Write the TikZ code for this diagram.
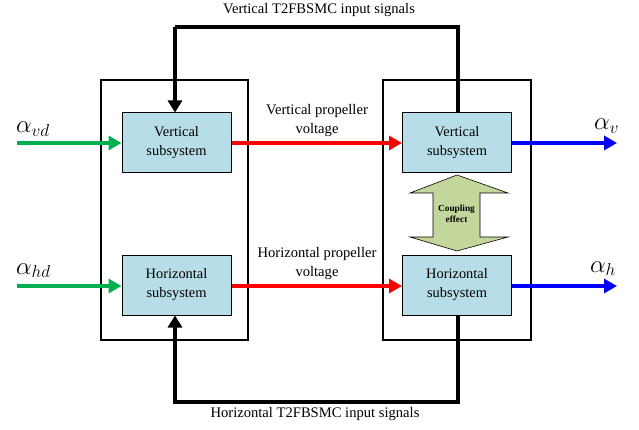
\documentclass[tikz,border=0pt]{standalone}
\usepackage{fontspec}
\setmainfont{Liberation Serif}
\usetikzlibrary{arrows.meta}
\definecolor{subfill}{RGB}{183,221,232}
\definecolor{couplefill}{RGB}{195,214,155}
\definecolor{ingreen}{RGB}{0,176,80}
\begin{document}
\begin{tikzpicture}[x=1pt,y=-1pt,
  frame/.style={draw=black,line width=1.3pt},
  subbox/.style={draw=black,line width=1pt,fill=subfill,minimum width=109pt,minimum height=60pt,
    align=center,font=\fontsize{14.4}{19}\selectfont,inner sep=0pt},
  sig/.style={line width=4pt,-{Triangle[length=13pt,width=14pt]}},
  fb/.style={line width=3.5pt,draw=black},
  lbl/.style={font=\fontsize{14.6}{19}\selectfont,align=center,inner sep=0pt},
  sym/.style={font=\fontsize{23}{23}\selectfont,inner sep=0pt}]
\useasboundingbox (0,0) rectangle (639,430);
% outer frames
\draw[frame] (101,80) rectangle (248,340);
\draw[frame] (383,80) rectangle (531,340);
% subsystems
\node[subbox] (vl) at (176.5,143) {Vertical\\subsystem};
\node[subbox] (hl) at (176.5,285) {Horizontal\\subsystem};
\node[subbox] (vr) at (457,143) {Vertical\\subsystem};
\node[subbox] (hr) at (457,285) {Horizontal\\subsystem};
% inputs and outputs
\coordinate (inv) at (17,143);
\coordinate (inh) at (17,286);
\coordinate (outv) at (617,143);
\coordinate (outh) at (617,286);
\draw[sig,ingreen] (inv) -- (inv -| vl.west);
\draw[sig,ingreen] (inh) -- (inh -| hl.west);
\draw[sig,red] (inv -| vl.east) -- (inv -| vr.west);
\draw[sig,red] (inh -| hl.east) -- (inh -| hr.west);
\draw[sig,blue] (inv -| vr.east) -- (outv);
\draw[sig,blue] (inh -| hr.east) -- (outh);
\node[sym,anchor=base west] (av) at (16,133) {$\alpha_{vd}$};
\node[sym,anchor=base west] (ah) at (16,274) {$\alpha_{hd}$};
\node[sym,anchor=base west] (ov) at (594,130) {$\alpha_{v}$};
\node[sym,anchor=base west] (oh) at (590,272) {$\alpha_{h}$};
% signal labels
\node[lbl] (lv) at (317,121) {Vertical propeller\\voltage};
\node[lbl] (lh) at (317,264) {Horizontal propeller\\voltage};
% feedback loops
\coordinate (tr) at (458,27);
\coordinate (tl) at (175,27);
\coordinate (br) at (458,402);
\coordinate (bl) at (175,402);
\draw[fb] (vr.north -| tr) -- (tr) -- (tl);
\draw[fb,-{Triangle[length=12pt,width=14pt]}] (tl) -- (tl |- vl.north);
\draw[fb,-{Triangle[length=12pt,width=14pt]}] (hr.south -| br) -- (br) -- (bl) -- (bl |- hl.south);
\node[lbl] (tt) at (319,10) {Vertical T2FBSMC input signals};
\node[lbl] (bt) at (315,414) {Horizontal T2FBSMC input signals};
% coupling effect
\draw[draw=black,line width=0.6pt,fill=couplefill]
  (457,175) -- (508,193) -- (480,193) -- (480,237) -- (508,237) -- (457,251)
  -- (410,237) -- (433,237) -- (433,193) -- (410,193) -- cycle;
\node[font=\bfseries\fontsize{9.3}{11}\selectfont,align=center] (ce) at (456.5,214) {Coupling\\effect};
\end{tikzpicture}
\end{document}
